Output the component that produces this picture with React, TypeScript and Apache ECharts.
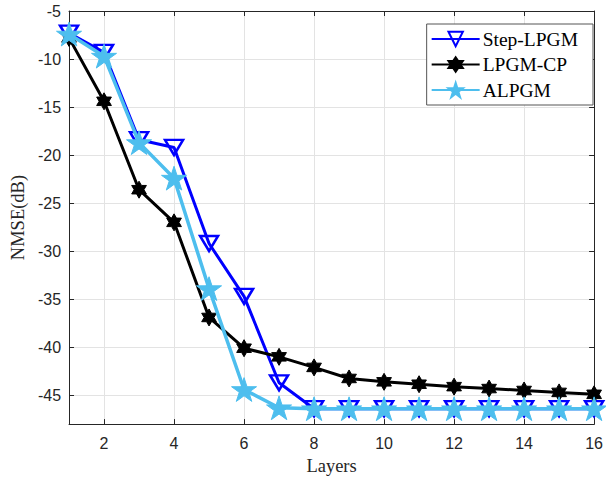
import React, { useEffect, useRef } from "react";
import * as echarts from "echarts";

const layers = [1, 2, 3, 4, 5, 6, 7, 8, 9, 10, 11, 12, 13, 14, 15, 16];
const stepLPGM = [-7.3, -9.3, -18.4, -19.2, -29.2, -34.7, -43.7, -46.4, -46.4, -46.4, -46.4, -46.4, -46.4, -46.4, -46.4, -46.4];
const lpgmCP = [-7.8, -14.4, -23.6, -27.0, -36.9, -40.1, -41.0, -42.1, -43.25, -43.6, -43.85, -44.1, -44.3, -44.5, -44.7, -44.9];
const alpgm = [-7.4, -9.7, -18.7, -22.4, -33.9, -44.4, -46.3, -46.4, -46.4, -46.4, -46.4, -46.4, -46.4, -46.4, -46.4, -46.4];
const seriesNames = ["Step-LPGM", "LPGM-CP", "ALPGM"];

const PENTAGRAM =
  "path://M100,0 L122.45,69.1 L195.1,69.1 L136.3,111.8 L158.8,180.9 L100,138.2 L41.2,180.9 L63.7,111.8 L4.9,69.1 L77.55,69.1 Z";
const HEXAGRAM =
  "path://M86.6,0 L115.5,50 L173.2,50 L144.3,100 L173.2,150 L115.5,150 L86.6,200 L57.7,150 L0,150 L28.9,100 L0,50 L57.7,50 Z";

const AXIS_COLOR = "#262626";
const GRID_COLOR = "#e3e3e3";
const SANS = "'Liberation Sans', Arial, Helvetica, sans-serif";
const SERIF = "'Liberation Serif', 'Times New Roman', serif";

export default function App() {
  const ref = useRef<HTMLDivElement>(null);
  useEffect(() => {
    document.body.style.margin = "0";
    const chart = echarts.init(ref.current!, null, { renderer: "svg" });
    const mk = (vals: number[]) => vals.map((v, i) => [layers[i], v]);
    const axisCommon = {
      axisLine: { show: true, lineStyle: { color: AXIS_COLOR, width: 1 } },
      axisTick: { show: true, inside: true, length: 5, lineStyle: { color: AXIS_COLOR } },
    };
    chart.setOption({
      animation: false,
      backgroundColor: "#ffffff",
      grid: { left: 65, right: 9, top: 11, bottom: 48, containLabel: false },
      legend: {
        orient: "vertical",
        right: 13,
        top: 24,
        itemWidth: 48,
        itemHeight: 18,
        itemGap: 5.5,
        padding: [5, 15, 5, 4],
        backgroundColor: "#ffffff",
        borderColor: "#555555",
        borderWidth: 1,
        borderRadius: 0,
        textStyle: { fontFamily: SERIF, fontSize: 19.5, color: "#000000", padding: [0, 0, 0, -2] },
        data: seriesNames,
      },
      xAxis: [
        {
          type: "value",
          min: 1,
          max: 16,
          splitNumber: 8,
          name: "Layers",
          nameLocation: "middle",
          nameGap: 31,
          nameTextStyle: { fontFamily: SERIF, fontSize: 18.5, color: AXIS_COLOR },
          ...axisCommon,
          axisLabel: {
            margin: 11,
            fontFamily: SANS,
            fontSize: 16,
            color: AXIS_COLOR,
            formatter: (v: number) => (v % 2 === 0 ? String(v) : ""),
          },
          splitLine: { show: true, lineStyle: { color: GRID_COLOR, width: 1 } },
        },
        {
          type: "value",
          min: 1,
          max: 16,
          splitNumber: 8,
          position: "top",
          ...axisCommon,
          axisLabel: { show: false },
          splitLine: { show: false },
        },
      ],
      yAxis: [
        {
          type: "value",
          min: -48,
          max: -5,
          splitNumber: 9,
          name: "NMSE(dB)",
          nameLocation: "middle",
          nameGap: 38,
          nameTextStyle: { fontFamily: SERIF, fontSize: 18.5, color: AXIS_COLOR },
          ...axisCommon,
          axisLabel: {
            margin: 8,
            fontFamily: SANS,
            fontSize: 16,
            color: AXIS_COLOR,
            formatter: (v: number) => (v % 5 === 0 ? String(v) : ""),
          },
          splitLine: { show: true, lineStyle: { color: GRID_COLOR, width: 1 } },
        },
        {
          type: "value",
          min: -48,
          max: -5,
          splitNumber: 9,
          position: "right",
          ...axisCommon,
          axisLabel: { show: false },
          splitLine: { show: false },
        },
      ],
      series: [
        {
          name: seriesNames[0],
          type: "line",
          data: mk(stepLPGM),
          symbol: "triangle",
          symbolRotate: 180,
          symbolSize: [18, 15],
          lineStyle: { color: "#0000ff", width: 3 },
          itemStyle: { color: "rgba(255,255,255,0)", borderColor: "#0000ff", borderWidth: 2.5 },
          z: 2,
        },
        {
          name: seriesNames[1],
          type: "line",
          data: mk(lpgmCP),
          symbol: HEXAGRAM,
          symbolKeepAspect: true,
          symbolSize: 17,
          lineStyle: { color: "#000000", width: 3 },
          itemStyle: { color: "#000000", borderColor: "#000000", borderWidth: 1 },
          z: 3,
        },
        {
          name: seriesNames[2],
          type: "line",
          data: mk(alpgm),
          symbol: PENTAGRAM,
          symbolKeepAspect: true,
          symbolSize: 25,
          lineStyle: { color: "#4dbeee", width: 3.5 },
          itemStyle: { color: "#4dbeee", borderColor: "#4dbeee", borderWidth: 1 },
          z: 4,
        },
      ],
    });
    return () => chart.dispose();
  }, []);
  return <div ref={ref} style={{ position: "absolute", left: 0, top: 0, width: 606, height: 480 }} />;
}
